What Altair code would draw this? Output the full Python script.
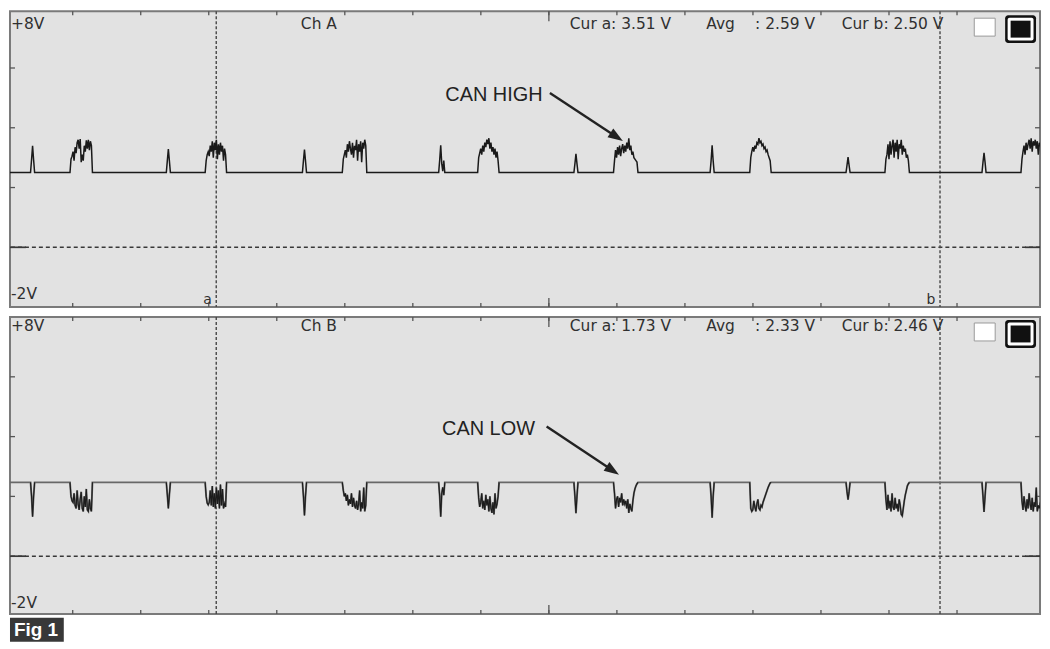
import altair as alt
import pandas as pd

# ---------------- data (time in divisions, voltage in volts) ----------------
DT = 0.015  # scope sample interval, in divisions

X_DOMAIN = [0.078, 15.22]
Y_DOMAIN_A = [-2.0, 7.9]
Y_DOMAIN_B = [-1.93, 8.0]
X_TICKS = [1, 2, 3, 4, 5, 6, 7, 8, 9, 10, 11, 12, 13, 14]
X_CENTER_TICK = [8]
Y_TICKS = [2, 4, 6]
ZERO = [0]
CURSORS = [3.11, 13.75]

A_BASE = 2.5
B_BASE = 2.47

SPIKE_T = [0.41, 2.406, 4.407, 6.41, 8.398, 10.40, 12.398, 14.397]
BURST_T = [0.96, 2.947, 4.963, 6.953, 8.95, 10.953, 12.94, 14.94]

A_SPIKES = [
    [2.5, 2.93, 3.40, 2.93, 2.5],
    [2.5, 2.90, 3.29, 2.90, 2.5],
    [2.5, 2.90, 3.27, 2.90, 2.5],
    [2.5, 2.92, 3.41, 2.80, 2.55, 2.90, 2.5],
    [2.5, 2.80, 3.13, 2.80, 2.5],
    [2.5, 2.90, 3.41, 2.90, 2.5],
    [2.5, 2.75, 3.02, 2.75, 2.5],
    [2.5, 2.85, 3.16, 2.85, 2.5],
]
A_BURSTS = [
    [2.5, 2.95, 3.05, 3.2, 2.9, 3.35, 3.15, 3.5, 3.6, 3.3, 3.62, 2.85, 3.1, 2.9, 3.4, 3.2, 3.58, 3.3, 3.6, 3.25, 3.55, 3.4, 2.5],
    [2.5, 2.9, 3.1, 3.2, 3.05, 3.4, 3.2, 3.55, 3.0, 3.5, 3.25, 3.6, 2.95, 3.45, 3.1, 3.5, 3.2, 3.4, 2.9, 3.3, 3.1, 2.5],
    [2.5, 2.95, 3.1, 3.25, 3.0, 3.45, 3.2, 3.55, 3.3, 3.1, 3.5, 3.0, 3.4, 3.25, 3.6, 2.9, 3.45, 3.2, 3.55, 2.85, 3.5, 3.3, 3.6, 3.4, 2.5],
    [2.5, 3.0, 3.15, 3.3, 3.1, 3.4, 3.2, 3.5, 3.35, 3.6, 3.45, 3.65, 3.3, 3.5, 3.2, 3.35, 3.1, 3.3, 3.0, 3.2, 2.9, 2.5],
    [2.5, 2.9, 3.25, 3.0, 3.35, 3.1, 3.4, 3.05, 3.3, 3.45, 3.15, 3.4, 3.2, 3.5, 3.3, 3.65, 3.25, 3.4, 3.1, 3.2, 3.0, 2.95, 2.9, 2.85, 2.5],
    [2.5, 3.0, 3.2, 3.35, 3.2, 3.4, 3.3, 3.5, 3.45, 3.65, 3.5, 3.55, 3.4, 3.45, 3.3, 3.35, 3.2, 3.25, 3.1, 3.0, 2.9, 2.5],
    [2.5, 2.95, 3.1, 3.45, 2.95, 3.55, 3.1, 3.4, 3.6, 3.0, 3.5, 3.2, 3.6, 2.95, 3.45, 3.3, 3.6, 3.1, 3.4, 3.2, 3.3, 3.0, 3.1, 2.9, 2.5],
    [2.5, 2.95, 3.2, 3.4, 3.1, 3.5, 3.25, 3.45, 3.6, 3.3, 3.65, 3.2, 3.55, 3.4, 3.6, 3.3, 3.55, 3.1, 3.5, 3.4],
]
B_SPIKES = [
    [2.47, 2.00, 1.32, 2.00, 2.47],
    [2.47, 2.05, 1.60, 2.05, 2.47],
    [2.47, 2.00, 1.36, 2.00, 2.47],
    [2.47, 2.00, 1.32, 2.10, 2.30, 2.04, 2.47],
    [2.47, 2.00, 1.44, 2.00, 2.47],
    [2.47, 2.00, 1.29, 2.00, 2.47],
    [2.47, 2.15, 1.89, 2.15, 2.47],
    [2.47, 2.00, 1.48, 2.00, 2.47],
]
B_BURSTS = [
    [2.47, 2.0, 1.85, 1.8, 2.1, 1.7, 1.6, 2.2, 1.75, 1.55, 1.9, 2.15, 1.6, 1.5, 2.0, 1.65, 2.25, 1.55, 1.5, 1.9, 1.6, 1.5, 2.47],
    [2.47, 2.0, 1.78, 1.72, 1.8, 2.2, 1.7, 2.35, 1.65, 2.1, 1.6, 2.3, 1.75, 2.2, 1.6, 2.4, 1.7, 2.25, 1.6, 1.75, 1.65, 2.47],
    [2.47, 2.2, 2.0, 2.1, 1.85, 2.05, 1.7, 1.9, 1.75, 2.1, 1.65, 1.95, 1.7, 1.6, 1.85, 1.55, 1.75, 2.2, 1.5, 1.8, 1.6, 2.3, 1.5, 1.7, 2.47],
    [2.47, 1.95, 1.65, 1.8, 2.1, 1.6, 1.85, 1.55, 2.05, 1.7, 1.9, 1.5, 2.0, 1.6, 1.45, 1.8, 1.4, 2.1, 1.6, 1.75, 2.0, 2.47],
    [2.47, 2.1, 1.6, 1.9, 2.0, 1.65, 1.95, 1.8, 2.1, 1.7, 1.9, 1.75, 1.85, 1.6, 1.9, 1.45, 1.75, 1.6, 1.5, 1.85, 2.1, 2.25, 2.35, 2.42, 2.47],
    [2.47, 1.6, 1.5, 1.55, 1.85, 1.65, 1.5, 1.75, 1.9, 1.6, 1.55, 1.7, 1.65, 1.8, 1.9, 2.0, 2.1, 2.2, 2.3, 2.38, 2.45, 2.47],
    [2.47, 1.9, 1.55, 2.05, 1.6, 1.85, 1.5, 2.1, 1.65, 1.55, 1.95, 1.6, 1.75, 1.5, 1.9, 1.7, 1.4, 1.35, 1.6, 1.85, 2.05, 2.2, 2.35, 2.42, 2.47],
    [2.47, 1.85, 1.55, 2.0, 1.7, 1.5, 1.9, 1.6, 2.1, 1.75, 1.55, 1.95, 1.5, 1.8, 1.65, 2.3, 1.5, 1.7, 1.6, 1.8],
]

HEADER_A = ["+8V", "Ch A", "Cur a: 3.51 V", "Avg", ": 2.59 V", "Cur b: 2.50 V", "-2V"]
HEADER_B = ["+8V", "Ch B", "Cur a: 1.73 V", "Avg", ": 2.33 V", "Cur b: 2.46 V", "-2V"]
CURSOR_NAMES = ["a", "b"]
NOTE_A = "CAN HIGH"
NOTE_B = "CAN LOW"
FIG_LABEL = "Fig 1"

# ---------------- layout ----------------
W = 1034
HA = 297
HB = 298
TXT_FONT = "DejaVu Sans"
NOTE_FONT = "Liberation Sans"


def one():
    return pd.DataFrame({"k": [0]})


def build_wave(base, spikes, bursts):
    rows = [{"t": X_DOMAIN[0] - 0.2, "v": base, "event": -1}]
    n = 0
    for t0, shape in zip(SPIKE_T, spikes):
        for i, v in enumerate(shape):
            rows.append({"t": round(t0 - 2 * DT + i * DT, 4), "v": v, "event": n})
        n += 1
    for t0, shape in zip(BURST_T, bursts):
        for i, v in enumerate(shape):
            rows.append({"t": round(t0 + i * DT, 4), "v": v, "event": n})
        n += 1
    rows.append({"t": X_DOMAIN[1] + 0.2, "v": base, "event": -1})
    return pd.DataFrame(rows).sort_values("t").reset_index(drop=True)


def text_layer(txt, x, y, size=15.5, font=TXT_FONT, color="#303030", weight="normal"):
    return alt.Chart(one()).mark_text(
        text=txt, align="left", baseline="alphabetic", font=font,
        fontSize=size, color=color, fontWeight=weight
    ).encode(x=alt.value(x), y=alt.value(y))


def rect_layer(x, x2, y, y2, fill, stroke=None, sw=0, radius=0):
    kw = dict(fill=fill, strokeWidth=sw, cornerRadius=radius)
    if stroke:
        kw["stroke"] = stroke
    return alt.Chart(one()).mark_rect(**kw).encode(
        x=alt.value(x), x2=alt.value(x2), y=alt.value(y), y2=alt.value(y2)
    )


def arrow_layers(x0, y0, cx, cy, angle):
    shaft = alt.Chart(one()).mark_rule(color="#222222", strokeWidth=2.4).encode(
        x=alt.value(x0), y=alt.value(y0), x2=alt.value(cx), y2=alt.value(cy)
    )
    head = alt.Chart(one()).mark_point(
        shape="M 1 0 L -1 -0.7 L -1 0.7 Z", size=225, angle=angle,
        filled=True, color="#222222", opacity=1
    ).encode(x=alt.value(cx), y=alt.value(cy))
    return [shaft, head]


def panel(wave, ydom, H, header, text_y, low_y, note, note_pos, arrow, box_y,
          line_color, line_width, overlay=False, extra=None):
    xs = alt.Scale(domain=X_DOMAIN, nice=False, zero=False)
    ys = alt.Scale(domain=ydom, nice=False, zero=False)

    def X(f):
        return alt.X(f, type="quantitative", scale=xs, axis=None)

    def Y(f):
        return alt.Y(f, type="quantitative", scale=ys, axis=None)

    zero_df = pd.DataFrame({"v": ZERO})
    tick_df = pd.DataFrame({"t": X_TICKS})
    ctick_df = pd.DataFrame({"t": X_CENTER_TICK})
    ytick_df = pd.DataFrame({"v": Y_TICKS})
    cur_df = pd.DataFrame({"t": CURSORS})
    tick_style = dict(color="#555555", strokeWidth=1.3)

    layers = [
        alt.Chart(zero_df).mark_rule(color="#383838", strokeWidth=1.5, strokeDash=[4, 3]).encode(y=Y("v")),
        alt.Chart(zero_df).mark_rule(color="#383838", strokeWidth=1.7).encode(
            y=Y("v"), x=alt.value(0), x2=alt.value(16)),
        alt.Chart(zero_df).mark_rule(color="#383838", strokeWidth=1.7).encode(
            y=Y("v"), x=alt.value(W - 15), x2=alt.value(W)),
        alt.Chart(cur_df).mark_rule(color="#474747", strokeWidth=1.4, strokeDash=[3, 2]).encode(x=X("t")),
        alt.Chart(tick_df).mark_rule(**tick_style).encode(x=X("t"), y=alt.value(0), y2=alt.value(4)),
        alt.Chart(tick_df).mark_rule(**tick_style).encode(x=X("t"), y=alt.value(H - 4), y2=alt.value(H)),
        alt.Chart(ctick_df).mark_rule(**tick_style).encode(x=X("t"), y=alt.value(0), y2=alt.value(10)),
        alt.Chart(ctick_df).mark_rule(**tick_style).encode(x=X("t"), y=alt.value(H - 9), y2=alt.value(H)),
        alt.Chart(ytick_df).mark_rule(**tick_style).encode(y=Y("v"), x=alt.value(0), x2=alt.value(5)),
        alt.Chart(ytick_df).mark_rule(**tick_style).encode(y=Y("v"), x=alt.value(W - 5), x2=alt.value(W)),
        alt.Chart(wave).mark_line(color=line_color, strokeWidth=line_width, clip=True).encode(
            x=X("t"), y=Y("v")),
    ]
    if overlay:
        layers.append(
            alt.Chart(wave[wave["event"] >= 0]).mark_line(color="#1c1c1c", strokeWidth=1.1, clip=True).encode(
                x=X("t"), y=Y("v"), detail="event:N")
        )
    # header texts
    xs_txt = [1, 292, 562, 699, 748, 835]
    for txt, xx in zip(header[:6], xs_txt):
        layers.append(text_layer(txt, xx, text_y))
    layers.append(text_layer(header[6], 1, low_y))
    # check boxes
    layers.append(rect_layer(968, 989, box_y + 3, box_y + 21, "#ffffff", "#9a9a9a", 1))
    layers.append(rect_layer(999, 1030, box_y, box_y + 28, "#111111", radius=3))
    layers.append(rect_layer(1001.5, 1027.5, box_y + 2.5, box_y + 25.5, "#ffffff", radius=2))
    layers.append(rect_layer(1004.5, 1024.5, box_y + 5.5, box_y + 22.5, "#111111"))
    # annotation
    layers.append(text_layer(note, note_pos[0], note_pos[1], size=20, font=NOTE_FONT, color="#222222"))
    layers += arrow_layers(*arrow)
    if extra:
        layers += extra
    return alt.layer(*layers).properties(width=W, height=H)


wave_a = build_wave(A_BASE, A_SPIKES, A_BURSTS)
wave_b = build_wave(B_BASE, B_SPIKES, B_BURSTS)

extra_a = [
    text_layer(CURSOR_NAMES[0], 194, 294, size=14),
    text_layer(CURSOR_NAMES[1], 920, 294, size=14),
]
extra_b = [
    rect_layer(0, 54, 302, 326, "#383838"),
    text_layer(FIG_LABEL, 4, 320, size=19, font=NOTE_FONT, color="#ffffff", weight="bold"),
]

top = panel(wave_a, Y_DOMAIN_A, HA, HEADER_A, 18, 289, NOTE_A, (437, 90),
            (542, 82, 609.0, 126.2, 33.4), 4, "#1a1a1a", 1.5, extra=extra_a)
bottom = panel(wave_b, Y_DOMAIN_B, HB, HEADER_B, 14, 292, NOTE_B, (433.7, 118),
               (538.7, 110, 605.1, 154.1, 33.6), 3, "#686868", 1.9, overlay=True, extra=extra_b)

chart = alt.vconcat(top, bottom, spacing=10, bounds="flush").configure_view(
    stroke="#7a7a7a", strokeWidth=2, fill="#e2e2e2"
).properties(padding=0, background="#ffffff")

chart.save("out.html", embed_options={"renderer": "svg", "actions": False})
